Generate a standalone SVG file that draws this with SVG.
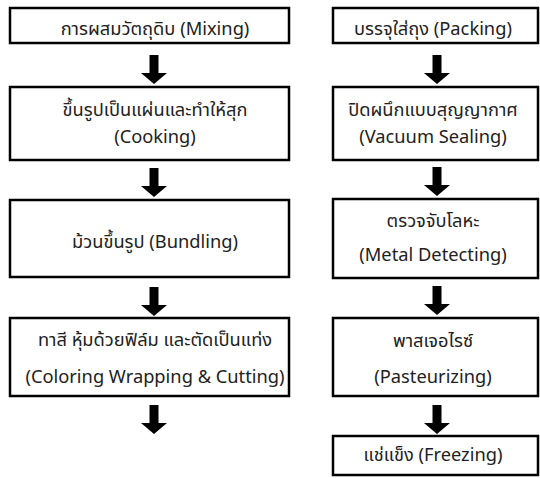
<svg xmlns="http://www.w3.org/2000/svg" width="540" height="478" viewBox="0 0 540 478">
<defs>
<style>
.box{fill:#fff;stroke:#000;stroke-width:2.5}
.t{font-family:"Noto Sans","Noto Sans Thai","DejaVu Sans",sans-serif;font-size:18.3px;fill:#222;text-anchor:middle}
.arr{fill:#000}
</style>
<path id="arrow" d="M-4.5,0 H4.5 V18 H13 L0,29 L-13,18 H-4.5 Z"/>
</defs>
<rect width="540" height="478" fill="#fff"/>
<g id="connectors" class="arr">
<use href="#arrow" x="154" y="55"/>
<use href="#arrow" x="154" y="168"/>
<use href="#arrow" x="154" y="287"/>
<use href="#arrow" x="154" y="405"/>
<use href="#arrow" x="437" y="55"/>
<use href="#arrow" x="437" y="167"/>
<use href="#arrow" x="437" y="286"/>
<use href="#arrow" x="437" y="405"/>
</g>
<g id="mixing"><rect class="box" x="10" y="8" width="279" height="35"/><text class="t" x="155" y="35">การผสมวัตถุดิบ (Mixing)</text></g>
<g id="cooking"><rect class="box" x="10" y="87" width="279" height="73"/><text class="t" x="155" y="116">ขึ้นรูปเป็นแผ่นและทำให้สุก</text><text class="t" x="155" y="143">(Cooking)</text></g>
<g id="bundling"><rect class="box" x="10" y="200" width="279" height="77"/><text class="t" x="155" y="248">ม้วนขึ้นรูป (Bundling)</text></g>
<g id="coloring"><rect class="box" x="10" y="318" width="279" height="78"/><text class="t" x="155" y="346">ทาสี หุ้มด้วยฟิล์ม และตัดเป็นแท่ง</text><text class="t" x="155" y="383">(Coloring Wrapping &amp; Cutting)</text></g>
<g id="packing"><rect class="box" x="333" y="8" width="205" height="35"/><text class="t" x="433" y="35">บรรจุใส่ถุง (Packing)</text></g>
<g id="vacuum"><rect class="box" x="333" y="87" width="205" height="73"/><text class="t" x="433" y="116">ปิดผนึกแบบสุญญากาศ</text><text class="t" x="433" y="143">(Vacuum Sealing)</text></g>
<g id="metal"><rect class="box" x="333" y="199" width="205" height="79"/><text class="t" x="433" y="227">ตรวจจับโลหะ</text><text class="t" x="433" y="261">(Metal Detecting)</text></g>
<g id="pasteurizing"><rect class="box" x="333" y="318" width="205" height="78"/><text class="t" x="433" y="347">พาสเจอไรซ์</text><text class="t" x="433" y="383">(Pasteurizing)</text></g>
<g id="freezing"><rect class="box" x="333" y="436" width="205" height="39"/><text class="t" x="433" y="461">แช่แข็ง (Freezing)</text></g>
</svg>
